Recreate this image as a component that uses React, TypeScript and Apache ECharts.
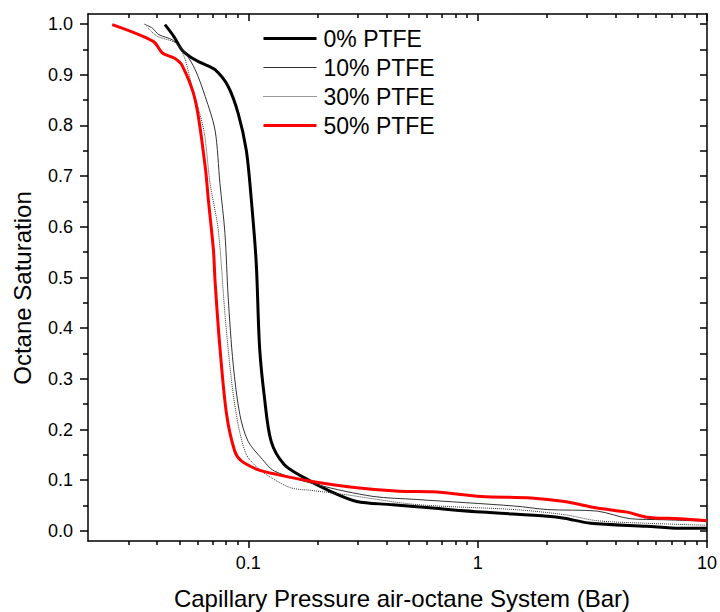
import React, { useEffect, useRef } from "react";
import * as echarts from "echarts";

// Capillary pressure (Bar) and octane saturation
const p0 = [0.0433, 0.0473, 0.0514, 0.0568, 0.0627, 0.0716, 0.0817, 0.0903, 0.098, 0.103, 0.1083, 0.112, 0.1176, 0.1257, 0.1433, 0.175, 0.228, 0.297, 0.413, 0.636, 1.04, 2.02, 2.39, 3.11, 5.46, 7.6, 10];
const s0 = [0.999, 0.976, 0.949, 0.933, 0.923, 0.91, 0.877, 0.824, 0.751, 0.655, 0.528, 0.362, 0.263, 0.177, 0.131, 0.105, 0.078, 0.058, 0.052, 0.045, 0.037, 0.029, 0.025, 0.015, 0.009, 0.005, 0.005];

const p10 = [0.0352, 0.0382, 0.0408, 0.0466, 0.0531, 0.0587, 0.0649, 0.0716, 0.0752, 0.0791, 0.0817, 0.0859, 0.0918, 0.0997, 0.1138, 0.13, 0.2, 0.35, 0.539, 1.45, 2.02, 3.32, 4.63, 6.44, 10];
const s10 = [1.0, 0.992, 0.979, 0.969, 0.943, 0.91, 0.857, 0.791, 0.686, 0.587, 0.461, 0.329, 0.23, 0.177, 0.144, 0.118, 0.091, 0.068, 0.062, 0.049, 0.042, 0.039, 0.024, 0.022, 0.019];

const p30 = [0.036, 0.0401, 0.0481, 0.0525, 0.0568, 0.064, 0.0681, 0.074, 0.0791, 0.0845, 0.0903, 0.098, 0.11, 0.1257, 0.153, 0.187, 0.26, 0.539, 1.45, 2.39, 3.32, 5.46, 10];
const s30 = [0.995, 0.976, 0.963, 0.936, 0.877, 0.79, 0.686, 0.593, 0.428, 0.296, 0.21, 0.151, 0.124, 0.105, 0.085, 0.08, 0.072, 0.052, 0.042, 0.032, 0.02, 0.015, 0.011];

const p50 = [0.0255, 0.0385, 0.0422, 0.0475, 0.0515, 0.0587, 0.0649, 0.067, 0.0705, 0.0716, 0.0752, 0.0804, 0.0873, 0.0933, 0.11, 0.134, 0.187, 0.297, 0.456, 0.636, 1.04, 1.71, 2.39, 3.32, 4.48, 5.46, 7.6, 10];
const s50 = [0.999, 0.966, 0.943, 0.933, 0.918, 0.85, 0.718, 0.652, 0.553, 0.494, 0.362, 0.23, 0.157, 0.138, 0.121, 0.111, 0.098, 0.085, 0.078, 0.077, 0.068, 0.065, 0.058, 0.045, 0.037, 0.027, 0.024, 0.02];

const seriesNames = ["0% PTFE", "10% PTFE", "30% PTFE", "50% PTFE"];

const xMajorTicks = [0.1, 1, 10];
const xMinorTicks = [0.03, 0.04, 0.05, 0.06, 0.07, 0.08, 0.09, 0.2, 0.3, 0.4, 0.5, 0.6, 0.7, 0.8, 0.9, 2, 3, 4, 5, 6, 7, 8, 9];
const yMajorTicks = [0, 0.1, 0.2, 0.3, 0.4, 0.5, 0.6, 0.7, 0.8, 0.9, 1.0];
const yMinorTicks = [0.05, 0.15, 0.25, 0.35, 0.45, 0.55, 0.65, 0.75, 0.85, 0.95];
const yRightTicks = [0, 0.05, 0.1, 0.15, 0.2, 0.25, 0.3, 0.35, 0.4, 0.45, 0.5, 0.55, 0.6, 0.65, 0.7, 0.75, 0.8, 0.85, 0.9, 0.95, 1.0];

const zip = (xs: number[], ys: number[]) => xs.map((x, i) => [x, ys[i]]);

const FONT = "'Liberation Sans', Arial, sans-serif";

const seriesStyles = [
  { color: "#000", width: 3, type: "solid" },
  { color: "#333", width: 1, type: "solid" },
  { color: "#333", width: 1, type: "dotted" },
  { color: "#ff0000", width: 3, type: "solid" },
];

export default function App() {
  const ref = useRef<HTMLDivElement>(null);
  useEffect(() => {
    if (!ref.current) return;
    const chart = echarts.init(ref.current, null, { renderer: "svg" });
    const lineAxis = { show: true, onZero: false, lineStyle: { color: "#000", width: 1.5 } };
    const noLine = { show: false, onZero: false };
    const xBase = { type: "log", logBase: 10, min: 0.02, max: 10, splitLine: { show: false }, gridIndex: 0 };
    const yBase = { type: "value", min: -0.02, max: 1.02, splitLine: { show: false }, gridIndex: 0 };
    const datasets = [zip(p0, s0), zip(p10, s10), zip(p30, s30), zip(p50, s50)];
    const option: any = {
      animation: false,
      backgroundColor: "#fff",
      textStyle: { fontFamily: FONT },
      grid: { left: 88, top: 14, right: 8, bottom: 71, containLabel: false },
      legend: {
        data: seriesNames.map((n, i) => ({
          name: n,
          lineStyle: { ...seriesStyles[i] },
          itemStyle: { opacity: 0 },
        })),
        orient: "vertical",
        left: 257,
        top: 22,
        itemWidth: 53,
        itemHeight: 14,
        itemGap: 6,
        itemStyle: { opacity: 0 },
        textStyle: { fontSize: 23, color: "#000", fontFamily: FONT, padding: [0, 0, 0, 2] },
      },
      xAxis: [
        {
          ...xBase,
          position: "bottom",
          axisLine: lineAxis,
          axisTick: { show: true, inside: false, length: 7, customValues: xMajorTicks, lineStyle: { color: "#000", width: 1.5 } },
          axisLabel: {
            show: true,
            customValues: xMajorTicks,
            margin: 13,
            fontSize: 18,
            color: "#000",
            fontFamily: FONT,
            formatter: (v: number) => String(v),
          },
        },
        {
          ...xBase,
          position: "bottom",
          axisLine: noLine,
          axisTick: { show: true, inside: false, length: 4, customValues: xMinorTicks, lineStyle: { color: "#000", width: 1.5 } },
          axisLabel: { show: false },
        },
        {
          ...xBase,
          position: "top",
          axisLine: lineAxis,
          axisTick: { show: true, inside: true, length: 7, customValues: xMajorTicks, lineStyle: { color: "#000", width: 1.5 } },
          axisLabel: { show: false },
        },
        {
          ...xBase,
          position: "top",
          axisLine: noLine,
          axisTick: { show: true, inside: true, length: 4, customValues: xMinorTicks, lineStyle: { color: "#000", width: 1.5 } },
          axisLabel: { show: false },
        },
      ],
      yAxis: [
        {
          ...yBase,
          position: "left",
          axisLine: lineAxis,
          axisTick: { show: true, inside: false, length: 8, customValues: yMajorTicks, lineStyle: { color: "#000", width: 1.5 } },
          axisLabel: {
            show: true,
            customValues: yMajorTicks,
            margin: 15,
            fontSize: 18,
            color: "#000",
            fontFamily: FONT,
            formatter: (v: number) => v.toFixed(1),
          },
        },
        {
          ...yBase,
          position: "left",
          axisLine: noLine,
          axisTick: { show: true, inside: false, length: 5, customValues: yMinorTicks, lineStyle: { color: "#000", width: 1.5 } },
          axisLabel: { show: false },
        },
        {
          ...yBase,
          position: "right",
          axisLine: lineAxis,
          axisTick: { show: true, inside: true, length: 7, customValues: yRightTicks, lineStyle: { color: "#000", width: 1.5 } },
          axisLabel: { show: false },
        },
      ],
      graphic: [
        {
          type: "text",
          x: 402,
          y: 598,
          style: {
            text: "Capillary Pressure air-octane System (Bar)",
            fontSize: 24,
            fontFamily: FONT,
            fill: "#000",
            align: "center",
            verticalAlign: "middle",
          },
        },
        {
          type: "text",
          x: 22,
          y: 288,
          rotation: Math.PI / 2,
          style: {
            text: "Octane Saturation",
            fontSize: 24,
            fontFamily: FONT,
            fill: "#000",
            align: "center",
            verticalAlign: "middle",
          },
        },
      ],
      series: seriesNames.map((n, i) => ({
        name: n,
        type: "line",
        data: datasets[i],
        showSymbol: false,
        symbol: "none",
        smooth: 0.3,
        lineStyle: { ...seriesStyles[i] },
        itemStyle: { color: seriesStyles[i].color },
      })),
    };
    chart.setOption(option);
    return () => chart.dispose();
  }, []);
  return (
    <div
      ref={ref}
      style={{ position: "absolute", left: 0, top: 0, width: 720, height: 612, background: "#fff" }}
    />
  );
}
